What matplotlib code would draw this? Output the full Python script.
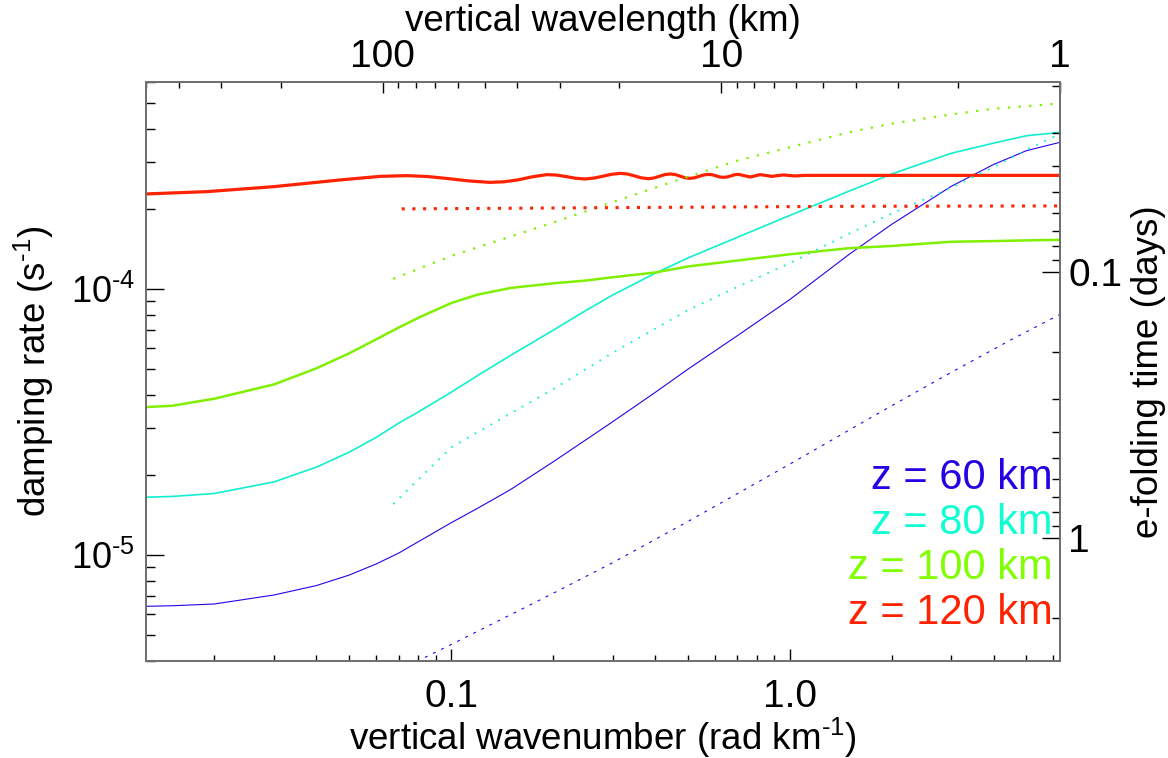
import numpy as np
import matplotlib
matplotlib.use('Agg')
import matplotlib.pyplot as plt
from matplotlib import ticker

plt.rcParams['font.family'] = 'Liberation Sans'
plt.rcParams['mathtext.fontset'] = 'custom'
plt.rcParams['mathtext.rm'] = 'Liberation Sans'

# vertical wavenumber grid (rad/km) for the smooth curves
m_grid = [0.01257, 0.015, 0.02, 0.03, 0.04, 0.05, 0.06, 0.07, 0.08, 0.1,
          0.12, 0.15, 0.2, 0.25, 0.3, 0.4, 0.5, 0.7, 1.0, 1.5, 2.0, 3.0,
          4.0, 5.0, 6.283]

# damping rates (1/s), full solution
rate_60 = [6.42e-6, 6.45e-6, 6.55e-6, 7.08e-6, 7.68e-6, 8.41e-6, 9.25e-6,
           1.017e-5, 1.122e-5, 1.322e-5, 1.501e-5, 1.764e-5, 2.239e-5,
           2.71e-5, 3.17e-5, 4.08e-5, 4.99e-5, 6.67e-5, 9.12e-5, 1.351e-4,
           1.749e-4, 2.431e-4, 2.937e-4, 3.309e-4, 3.558e-4]
rate_80 = [1.650e-5, 1.661e-5, 1.704e-5, 1.884e-5, 2.139e-5, 2.435e-5,
           2.764e-5, 3.13e-5, 3.449e-5, 4.09e-5, 4.735e-5, 5.63e-5, 6.99e-5,
           8.30e-5, 9.49e-5, 1.145e-4, 1.307e-4, 1.563e-4, 1.889e-4,
           2.334e-4, 2.704e-4, 3.236e-4, 3.533e-4, 3.767e-4, 3.877e-4]
rate_100 = [3.60e-5, 3.64e-5, 3.87e-5, 4.38e-5, 5.03e-5, 5.73e-5, 6.46e-5,
            7.16e-5, 7.79e-5, 8.85e-5, 9.53e-5, 1.009e-4, 1.050e-4,
            1.076e-4, 1.107e-4, 1.153e-4, 1.215e-4, 1.279e-4, 1.350e-4,
            1.424e-4, 1.451e-4, 1.505e-4, 1.514e-4, 1.523e-4, 1.530e-4]

# z = 120 km oscillates, so it has its own, finer wavenumber list
m_120 = [0.01257, 0.015, 0.0190, 0.0299, 0.040, 0.0470, 0.055, 0.0617,
         0.0740, 0.0849, 0.0980, 0.1130, 0.1303, 0.1434, 0.1577, 0.1735,
         0.1917, 0.2043, 0.2186, 0.2332, 0.2488, 0.2646, 0.2812, 0.2979,
         0.3157, 0.3311, 0.3472, 0.3641, 0.3828, 0.3978, 0.4116, 0.4272,
         0.4436, 0.4589, 0.4748, 0.4913, 0.5082, 0.5240, 0.5401, 0.5569,
         0.5756, 0.5902, 0.6066, 0.6212, 0.6374, 0.6537, 0.6718, 0.6879,
         0.7062, 0.7338, 0.7645, 0.7909, 0.8182, 0.8523, 0.8860, 0.9215,
         0.9587, 0.9965, 1.038, 1.074, 1.111, 6.283]
rate_120 = [2.276e-4, 2.296e-4, 2.322e-4, 2.424e-4, 2.516e-4, 2.569e-4,
            2.616e-4, 2.650e-4, 2.667e-4, 2.648e-4, 2.600e-4, 2.547e-4,
            2.516e-4, 2.529e-4, 2.571e-4, 2.639e-4, 2.690e-4, 2.681e-4,
            2.646e-4, 2.607e-4, 2.591e-4, 2.612e-4, 2.655e-4, 2.698e-4,
            2.720e-4, 2.706e-4, 2.664e-4, 2.618e-4, 2.597e-4, 2.614e-4,
            2.650e-4, 2.690e-4, 2.706e-4, 2.692e-4, 2.655e-4, 2.618e-4,
            2.605e-4, 2.618e-4, 2.650e-4, 2.683e-4, 2.696e-4, 2.688e-4,
            2.662e-4, 2.636e-4, 2.628e-4, 2.636e-4, 2.662e-4, 2.688e-4,
            2.696e-4, 2.667e-4, 2.636e-4, 2.662e-4, 2.690e-4, 2.671e-4,
            2.650e-4, 2.667e-4, 2.683e-4, 2.671e-4, 2.659e-4, 2.667e-4,
            2.673e-4, 2.673e-4]

# approximate (dotted) rates
m_60_approx = [0.075, 0.1, 0.15, 0.2, 0.3, 0.5, 1.0, 2.0, 3.0, 4.5, 6.283]
rate_60_approx = [3.85e-6, 4.61e-6, 5.97e-6, 7.18e-6, 9.36e-6, 1.336e-5,
                  2.196e-5, 3.64e-5, 4.86e-5, 6.44e-5, 8.02e-5]

m_80_approx = [0.0675, 0.1, 0.2, 0.3, 0.5, 0.7, 1.0, 1.5, 2.0, 3.0, 4.0,
               5.0, 6.283]
rate_80_approx = [1.554e-5, 2.54e-5, 4.20e-5, 5.76e-5, 8.32e-5, 1.017e-4,
                  1.250e-4, 1.616e-4, 1.920e-4, 2.402e-4, 2.870e-4,
                  3.336e-4, 3.826e-4]

m_100_approx = [0.0675, 0.1, 0.2, 0.3, 0.5, 0.7, 1.0, 1.5, 2.0, 3.0, 4.0,
                6.283]
rate_100_approx = [1.092e-4, 1.330e-4, 1.776e-4, 2.121e-4, 2.643e-4,
                   3.035e-4, 3.408e-4, 3.883e-4, 4.182e-4, 4.532e-4,
                   4.756e-4, 4.980e-4]

m_120_approx = [0.0715, 0.3, 1.5, 6.283]
rate_120_approx = [2.000e-4, 2.022e-4, 2.045e-4, 2.052e-4]

heights = ['z = 60 km', 'z = 80 km', 'z = 100 km', 'z = 120 km']
colors = ['#2a00e8', '#10f0d0', '#80f000', '#ff2200']
text_colors = ['#2800e6', '#10ffd2', '#80ff00', '#ff2200']

spine_grey = '#707070'
tick_fs = 28
label_fs = 26.5

fig = plt.figure(figsize=(11.68, 7.58), dpi=100)
ax = fig.add_axes([0.125, 0.128, 0.7825, 0.7639])

ax.plot(m_grid, rate_60, color=colors[0], lw=0.8)
ax.plot(m_grid, rate_80, color=colors[1], lw=1.2)
ax.plot(m_grid, rate_100, color=colors[2], lw=1.8)
ax.plot(m_120, rate_120, color=colors[3], lw=2.3)

ax.plot(m_60_approx, rate_60_approx, color=colors[0], lw=0.8,
        linestyle=(0, (2.7, 5.4)))
ax.plot(m_80_approx, rate_80_approx, color=colors[1], lw=1.3,
        linestyle=(0, (1, 4)))
ax.plot(m_100_approx, rate_100_approx, color=colors[2], lw=1.6,
        linestyle=(0, (1, 3.8)))
ax.plot(m_120_approx, rate_120_approx, color=colors[3], lw=2.2,
        linestyle=(0, (1, 2.5)))

ax.set_xscale('log')
ax.set_yscale('log')
xmin, xmax = 2 * np.pi / 500, 2 * np.pi
ymin, ymax = 4e-6, 6e-4
ax.set_xlim(xmin, xmax)
ax.set_ylim(ymin, ymax)

subs = np.arange(2, 10)
ax.xaxis.set_major_locator(ticker.FixedLocator([0.1, 1.0]))
ax.xaxis.set_major_formatter(ticker.FixedFormatter(['0.1', '1.0']))
ax.xaxis.set_minor_locator(ticker.LogLocator(base=10, subs=subs))
ax.xaxis.set_minor_formatter(ticker.NullFormatter())
ax.yaxis.set_major_locator(ticker.FixedLocator([1e-5, 1e-4]))
ax.yaxis.set_major_formatter(ticker.FixedFormatter(
    [r'$\mathregular{10^{\text{-}5}}$', r'$\mathregular{10^{\text{-}4}}$']))
ax.yaxis.set_minor_locator(ticker.LogLocator(base=10, subs=subs))
ax.yaxis.set_minor_formatter(ticker.NullFormatter())

ax.tick_params(axis='x', which='major', direction='in', length=8.6, width=1,
               labelsize=tick_fs, pad=13, top=False)
ax.tick_params(axis='x', which='minor', direction='in', length=4.3, width=1,
               top=False)
ax.tick_params(axis='y', which='major', direction='in', length=13, width=1,
               labelsize=26, pad=8, right=False)
ax.tick_params(axis='y', which='minor', direction='in', length=6.5, width=1,
               right=False)

ax.set_xlabel(r'vertical wavenumber (rad km$\mathregular{^{\text{-}1}}$)',
              fontsize=label_fs)
ax.xaxis.set_label_coords(0.5, -0.094)
ax.set_ylabel(r'damping rate (s$\mathregular{^{\text{-}1}}$)',
              fontsize=label_fs)
ax.yaxis.set_label_coords(-0.0985, 0.5)

# top axis: vertical wavelength = 2*pi / m
ax_top = ax.twiny()
ax_top.set_xscale('log')
ax_top.set_xlim(2 * np.pi / xmin, 2 * np.pi / xmax)
ax_top.xaxis.set_major_locator(ticker.FixedLocator([100, 10, 1]))
ax_top.xaxis.set_major_formatter(ticker.FixedFormatter(['100', '10', '1']))
ax_top.xaxis.set_minor_locator(ticker.LogLocator(base=10, subs=subs))
ax_top.xaxis.set_minor_formatter(ticker.NullFormatter())
ax_top.tick_params(axis='x', which='major', direction='in', length=8,
                   width=1, labelsize=tick_fs, pad=5)
ax_top.tick_params(axis='x', which='minor', direction='in', length=4.3,
                   width=1)
ax_top.set_xlabel('vertical wavelength (km)', fontsize=label_fs)
ax_top.xaxis.set_label_coords(0.5, 1.088)

# right axis: e-folding time in days = 1 / (rate * 86400)
ax_right = ax.twinx()
ax_right.set_yscale('log')
ax_right.set_ylim(1 / (86400 * ymin), 1 / (86400 * ymax))
ax_right.yaxis.set_major_locator(ticker.FixedLocator([0.1, 1]))
ax_right.yaxis.set_major_formatter(ticker.FixedFormatter(['0.1', '1']))
ax_right.yaxis.set_minor_locator(ticker.LogLocator(base=10, subs=subs))
ax_right.yaxis.set_minor_formatter(ticker.NullFormatter())
ax_right.tick_params(axis='y', which='major', direction='in', length=13,
                     width=1, labelsize=tick_fs, pad=6)
ax_right.tick_params(axis='y', which='minor', direction='in', length=6,
                     width=1)
ax_right.set_ylabel('e-folding time (days)', fontsize=label_fs)
ax_right.yaxis.set_label_coords(1.0777, 0.5)

for a in (ax, ax_top, ax_right):
    for sp in a.spines.values():
        sp.set_color(spine_grey)
        sp.set_linewidth(1.3)

label_y = [0.2965, 0.2188, 0.1411, 0.0634]
for name, c, yy in zip(heights, text_colors, label_y):
    ax.text(0.992, yy, name, color=c, fontsize=30, ha='right',
            va='baseline', transform=ax.transAxes)

fig.savefig('out.png', dpi=100)
